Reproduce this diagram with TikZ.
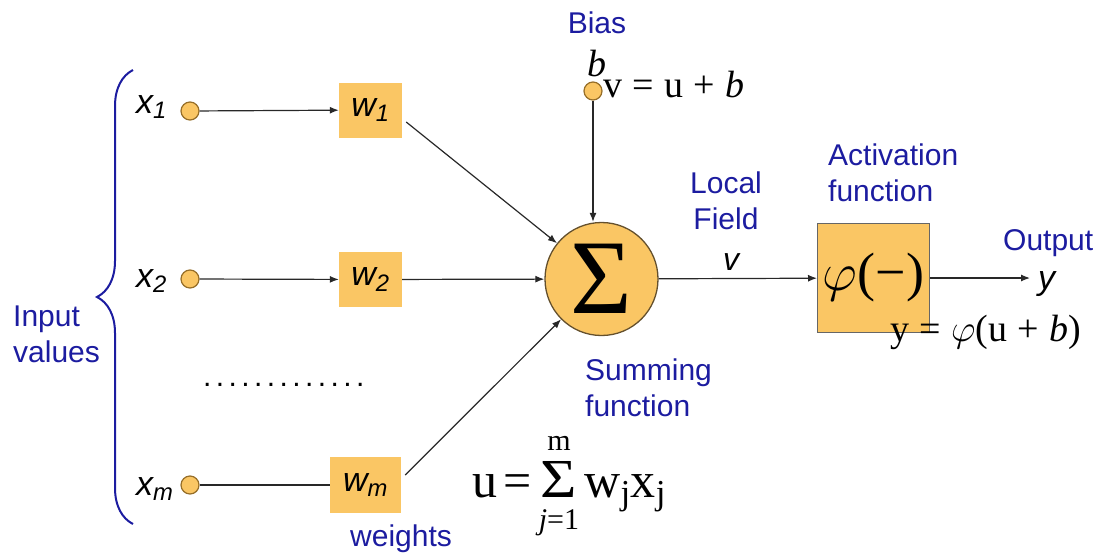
\RequirePackage{fix-cm}
\documentclass[tikz,border=0pt]{standalone}
\usepackage{fontspec}
\setmainfont{Liberation Sans}
\newfontfamily\tnr{Liberation Serif}
\usetikzlibrary{arrows.meta,decorations.pathreplacing,calc}
\definecolor{gold}{RGB}{250,198,100}
\definecolor{navy}{RGB}{28,28,160}
\definecolor{lineg}{RGB}{40,40,40}
\definecolor{ringc}{RGB}{150,110,40}
\definecolor{sumring}{RGB}{100,80,45}
\tikzset{
  lbl/.style={text=navy, font=\fontsize{30}{36.5}\selectfont, inner sep=0pt},
  sym/.style={font=\fontsize{34}{38}\selectfont\itshape, inner sep=0pt},
  inc/.style={circle, fill=gold, draw=ringc, line width=1.2pt, minimum size=18pt, inner sep=0pt},
  wbox/.style={fill=gold, minimum width=63pt, minimum height=55pt, inner sep=0pt, font=\fontsize{34}{38}\selectfont\itshape},
  sumc/.style={circle, fill=gold, draw=sumring, line width=1.3pt, minimum size=113pt, inner sep=0pt},
  actbox/.style={fill=gold, draw=black!60, line width=1pt, minimum width=112pt, minimum height=109pt, inner sep=0pt},
  arr/.style={draw=lineg, line width=1.2pt, -{Latex[length=9pt,width=7pt]}},
  ln/.style={draw=lineg, line width=1.2pt},
  eqA/.style={font=\tnr\fontsize{38}{40}\selectfont, inner sep=0pt},
  eqB/.style={font=\tnr\fontsize{50}{54}\selectfont, inner sep=0pt},
  eqS/.style={font=\tnr\fontsize{30}{32}\selectfont, inner sep=0pt},
  bracestyle/.style={draw=navy, line width=2pt, decorate, decoration={brace, amplitude=36pt}}
}
\newcommand{\gapsp}{\hspace{0.27em}}
\newcommand{\onedot}{.\hspace{4.4pt}}
\begin{document}
\begin{tikzpicture}[x=1pt,y=-1pt]
\useasboundingbox (0,0) rectangle (1101,555);

% brace and input label
\draw[bracestyle] (133,524) -- (133,70);
\node[lbl, anchor=north west, align=left] (inp) at (13,305.5) {Input\\values};

% input circles and labels
\node[inc] (c1) at (190,111) {};
\node[inc] (c2) at (190,279) {};
\node[inc] (cm) at (190,485) {};
\node[sym, anchor=base west] (x1) at (136,113) {x\textsubscript{1}};
\node[sym, anchor=base west] (x2) at (136,287) {x\textsubscript{2}};
\node[sym, anchor=base west] (xm) at (136,495) {x\textsubscript{m}};

% weights
\node[wbox] (w1) at (370.5,110) {w\textsubscript{1}};
\node[wbox] (w2) at (370.5,279.5) {w\textsubscript{2}};
\node[wbox, minimum width=71pt, minimum height=56pt] (wm) at (365.5,485) {w\textsubscript{m}};
\node[lbl, anchor=base west] (wts) at (350,546) {weights};
\node[font=\fontsize{30}{36}\selectfont, inner sep=0pt, anchor=base west] (dots) at (203,386)
  {\onedot\onedot\onedot\onedot\onedot\onedot\onedot\onedot\onedot\onedot\onedot\onedot.};

% summing junction
\node[sumc] (S) at (601.5,279) {\tnr\fontsize{106}{106}\selectfont Σ};
\node[lbl, anchor=north west, align=left] (sumlbl) at (585,358.5) {Summing\\function};

% bias
\node[lbl, anchor=base] (bias) at (597,33) {Bias};
\node[eqA, anchor=base west] (bl) at (587,76) {\itshape b};
\node[inc] (b0) at (593,91) {};
\node[eqA, anchor=base west] (veq) at (603,97) {v\gapsp=\gapsp u\gapsp+\gapsp\textit{b}};

% local field
\node[lbl, anchor=north, align=center] (lf) at (726,171.5) {Local\\Field};
\node[sym, font=\fontsize{32}{36}\selectfont\itshape, anchor=base] (vl) at (731,270) {v};

% activation
\node[actbox] (A) at (873.5,278) {\fontsize{54}{56}\selectfont$\varphi$\tnr(−)};
\node[lbl, anchor=north west, align=left] (actl) at (828,143.5) {Activation\\function};
\node[eqA, anchor=base west] (yeq) at (890,341) {y\gapsp=\gapsp$\varphi$(u\gapsp+\gapsp\textit{b})};

% output
\coordinate (yend) at (1030,278);
\node[lbl, anchor=base west] (outl) at (1003,250) {Output};
\node[sym, anchor=base west] (yl) at (1038,289) {y};

% u equation
\node[eqB, anchor=base west] (ulhs) at (472,497) {u\hspace{0.12em}=};
\node[eqB, anchor=base west] (usig) at ([xshift=9pt]ulhs.base east) {\scalebox{1.25}[1.1]{Σ}};
\node[eqS, anchor=south] (um) at ([yshift=10pt]usig.north) {m};
\node[eqS, anchor=north] (uj) at ([yshift=-12pt]usig.south) {\textit{j}=1};
\node[eqB, anchor=base west] (urhs) at ([xshift=7pt]usig.base east) {w\textsubscript{j}x\textsubscript{j}};

% connectors
\draw[arr] (c1) -- (w1);
\draw[arr] (c2) -- (w2);
\draw[ln] (cm) -- (wm);
\draw[arr] ($(w1.east)+(4,12)$) -- (S);
\draw[arr] (w2) -- (S);
\draw[arr] ($(wm.east)+(4,-10)$) -- (S);
\draw[arr] (b0) -- (b0 |- S.north);
\draw[arr] (S) -- (A);
\draw[arr] (A.east) -- (yend);
\end{tikzpicture}
\end{document}
